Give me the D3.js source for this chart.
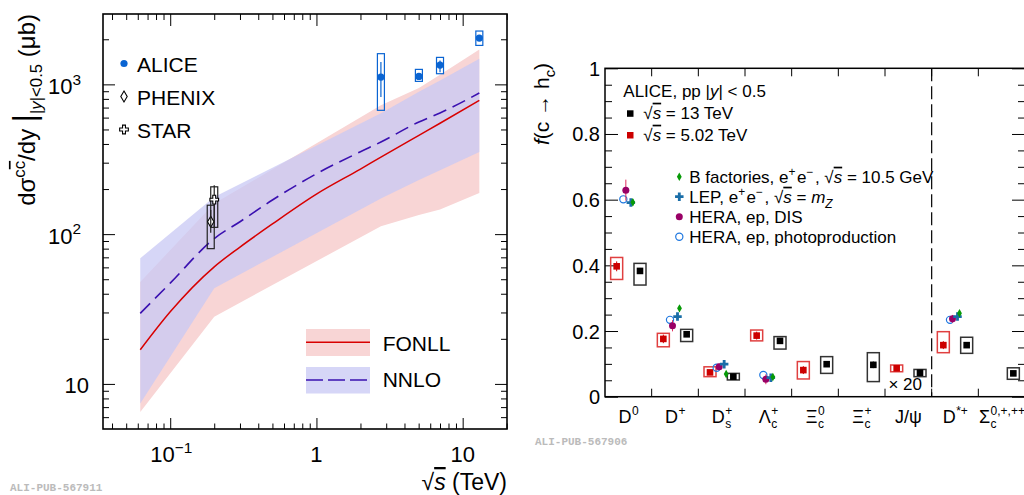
<!DOCTYPE html>
<html>
<head>
<meta charset="utf-8">
<script src="https://cdn.jsdelivr.net/npm/d3@7"></script>
<style>
  body { margin: 0; background: #fff; }
  svg { font-family: "Liberation Sans", Arial, sans-serif; }
</style>
</head>
<body>
<div id="chart"></div>
<script>
// ---- left panel: charm production cross section vs sqrt(s) ----
var modelE = [0.0624, 0.1, 0.2, 0.3, 0.5, 1, 2, 2.76, 5.02, 7, 13];
var fonllCentral = [16.9, 30.3, 60.5, 82, 117, 185, 272, 327, 457, 550, 782];
var nnloCentral = [29.6, 47.1, 93.5, 121, 169, 253, 355, 412, 561, 644, 875];

var bandE = [0.0624, 0.2, 2.76, 5.02, 7, 13];
var fonllLow = [6.5, 28.1, 113, 134, 146, 188];
var fonllHigh = [48, 160, 724, 946, 1158, 1711];
var nnloLow = [7.4, 43.5, 173, 230, 267, 354];
var nnloHigh = [69, 177, 641, 891, 1063, 1483];

var aliceE = [2.76, 5.02, 7, 13];
var aliceVal = [1119, 1130, 1345, 2036];
var aliceStatLo = [822, 1085, 1207, 1950];
var aliceStatHi = [1408, 1180, 1445, 2120];
var aliceSysLo = [671, 1047, 1178, 1820];
var aliceSysHi = [1603, 1259, 1514, 2270];

var phenixE = [0.2], phenixVal = [121], phenixStatLo = [102], phenixStatHi = [145], phenixSysLo = [80], phenixSysHi = [156];
var starE = [0.2], starVal = [170], starStatLo = [110], starStatHi = [212], starSysLo = [111], starSysHi = [207];

var xTickVals = [0.1, 1, 10], xTickBase = ["10", "1", "10"], xTickSup = ["\u22121", "", ""];
var yTickVals = [10, 100, 1000], yTickBase = ["10", "10", "10"], yTickSup = ["", "2", "3"];

// ---- right panel: fragmentation fractions ----
var cats = ["D0", "D+", "Ds+", "Lc+", "Xic0", "Xic+", "Jpsi", "D*+", "Sc"];
var catBase = ["D", "D", "D", "\u039B", "\u039E", "\u039E", "J/\u03C8", "D", "\u03A3"];
var catSup = ["0", "+", "+", "+", "0", "+", "", "*+", "0,+,++"];
var catSub = ["", "", "s", "c", "c", "c", "", "", "c"];

var a502 = [0.397, 0.176, 0.074, 0.186, 0.081, null, 0.0865, 0.157, null];
var a502SysLo = [0.357, 0.152, 0.061, 0.170, 0.054, null, 0.076, 0.134, null];
var a502SysHi = [0.424, 0.193, 0.091, 0.203, 0.107, null, 0.0965, 0.198, null];
var a502Stat = [0.015, 0.013, 0.006, 0.012, 0.012, null, 0.003, 0.012, null];
var a13 = [0.383, 0.190, 0.061, 0.170, 0.099, 0.097, 0.073, 0.157, 0.071];
var a13SysLo = [0.340, 0.168, 0.051, 0.145, 0.071, 0.046, 0.061, 0.132, 0.053];
var a13SysHi = [0.406, 0.205, 0.071, 0.183, 0.122, 0.134, 0.083, 0.181, 0.088];
var a13Stat = [0.009, 0.008, 0.003, 0.006, 0.008, 0.010, 0.002, 0.006, 0.005];

var otherCats = ["D0", "D+", "Ds+", "Lc+", "D*+"];
var bFactVal = [0.592, 0.269, 0.069, 0.060, 0.254];
var bFactErr = [0.010, 0.010, 0.006, 0.005, 0.008];
var lepVal = [0.591, 0.244, 0.099, 0.058, 0.244];
var heraDisVal = [0.629, 0.216, 0.091, 0.053, 0.237];
var heraDisErr = [0.032, 0.017, 0.010, 0.015, 0.012];
var heraPhVal = [0.601, 0.234, 0.088, 0.066, 0.234];

var yRTicks = [0, 0.2, 0.4, 0.6, 0.8, 1];
var yRLabels = ["0", "0.2", "0.4", "0.6", "0.8", "1"];

var svg = d3.select("#chart").append("svg").attr("width", 1024).attr("height", 495);

// helper: text with sup/sub segments
function rich(sel, segs, fs) {
  var shift = 0;
  segs.forEach(function (s) {
    var target = s.sup ? -0.42 * fs : s.sub ? 0.3 * fs : 0;
    var ts = sel.append("tspan").text(s.t).attr("dy", target - shift);
    shift = target;
    if (s.sup || s.sub) ts.attr("font-size", 0.7 * fs);
    if (s.size) ts.attr("font-size", s.size * fs);
    if (s.it) ts.attr("font-style", "italic");
    if (s.bar) ts.style("text-decoration", "overline");
    if (s.dx) ts.attr("dx", s.dx);
  });
  return sel;
}

// ================= LEFT =================
var xL = d3.scaleLog().domain([0.0347, 20.1]).range([103, 507]);
var yL = d3.scaleLog().domain([5, 2950]).range([429, 14]);
var left = svg.append("g");

var pinkFill = "#f8d5d5", blueFill = "#c8c8f4";

function band(lo, hi) {
  return bandE.map(function (e, i) { return { e: e, lo: lo[i], hi: hi[i] }; });
}
var area = d3.area()
  .x(function (d) { return xL(d.e); })
  .y0(function (d) { return yL(d.lo); })
  .y1(function (d) { return yL(d.hi); });

left.append("path").datum(band(fonllLow, fonllHigh)).attr("d", area).attr("fill", pinkFill);
left.append("path").datum(band(nnloLow, nnloHigh)).attr("d", area)
  .attr("fill", blueFill).attr("fill-opacity", 0.75);

var line = d3.line()
  .x(function (d) { return xL(d[0]); })
  .y(function (d) { return yL(d[1]); })
  .curve(d3.curveMonotoneX);

left.append("path").datum(d3.zip(modelE, fonllCentral)).attr("d", line)
  .attr("fill", "none").attr("stroke", "#d80000").attr("stroke-width", 1.5);
left.append("path").datum(d3.zip(modelE, nnloCentral)).attr("d", line)
  .attr("fill", "none").attr("stroke", "#3a10b0").attr("stroke-width", 1.6)
  .attr("stroke-dasharray", "14,7");

// data points with sys boxes
function drawSet(E, val, sLo, sHi, stLo, stHi, color, nudge, marker) {
  var g = left.append("g");
  E.forEach(function (e, i) {
    var cx = xL(e) + nudge;
    g.append("rect").attr("x", cx - 3.5).attr("width", 7)
      .attr("y", yL(sHi[i])).attr("height", yL(sLo[i]) - yL(sHi[i]))
      .attr("fill", "none").attr("stroke", color).attr("stroke-width", 1.2);
    g.append("line").attr("x1", cx).attr("x2", cx)
      .attr("y1", yL(stHi[i])).attr("y2", yL(stLo[i]))
      .attr("stroke", color).attr("stroke-width", 1.2);
    marker(g, cx, yL(val[i]));
  });
}
var blue = "#0a64d2";
function mkDot(g, x, y) { g.append("circle").attr("cx", x).attr("cy", y).attr("r", 3.6).attr("fill", blue); }
function mkDiamond(g, x, y) {
  g.append("path").attr("d", "M0,-5.5L3.2,0L0,5.5L-3.2,0Z").attr("transform", "translate(" + x + "," + y + ")")
    .attr("fill", "#fff").attr("stroke", "#000").attr("stroke-width", 1.1);
}
function mkCross(g, x, y) {
  g.append("path").attr("d", d3.symbol(d3.symbolCross, 42)()).attr("transform", "translate(" + x + "," + y + ")")
    .attr("fill", "#fff").attr("stroke", "#000").attr("stroke-width", 1.1);
}
drawSet(phenixE, phenixVal, phenixSysLo, phenixSysHi, phenixStatLo, phenixStatHi, "#222", -3.5, mkDiamond);
drawSet(starE, starVal, starSysLo, starSysHi, starStatLo, starStatHi, "#222", 0, mkCross);
drawSet(aliceE, aliceVal, aliceSysLo, aliceSysHi, aliceStatLo, aliceStatHi, blue, 0, mkDot);

// axes (inward ticks)
function minors(lo, hi) {
  var t = [];
  for (var p = -2; p <= 4; p++) for (var m = 2; m <= 9; m++) {
    var v = m * Math.pow(10, p);
    if (v > lo && v < hi) t.push(v);
  }
  return t;
}
function noDomain(g) { g.select(".domain").remove(); g.selectAll("text").remove(); }
var xMin = minors(0.0347, 20.1), yMin = minors(5, 2950);
left.append("g").attr("transform", "translate(0,429)").call(d3.axisBottom(xL).tickValues(xTickVals).tickSize(-11)).call(noDomain);
left.append("g").attr("transform", "translate(0,429)").call(d3.axisBottom(xL).tickValues(xMin).tickSize(-5.5)).call(noDomain);
left.append("g").attr("transform", "translate(0,14)").call(d3.axisTop(xL).tickValues(xTickVals).tickSize(-12)).call(noDomain);
left.append("g").attr("transform", "translate(0,14)").call(d3.axisTop(xL).tickValues(xMin).tickSize(-6)).call(noDomain);
left.append("g").attr("transform", "translate(103,0)").call(d3.axisLeft(yL).tickValues(yTickVals).tickSize(-12)).call(noDomain);
left.append("g").attr("transform", "translate(103,0)").call(d3.axisLeft(yL).tickValues(yMin).tickSize(-6)).call(noDomain);
left.append("g").attr("transform", "translate(507,0)").call(d3.axisRight(yL).tickValues(yTickVals).tickSize(-12)).call(noDomain);
left.append("g").attr("transform", "translate(507,0)").call(d3.axisRight(yL).tickValues(yMin).tickSize(-6)).call(noDomain);
left.selectAll(".tick line").attr("stroke-width", 1);

left.append("rect").attr("x", 103).attr("y", 14).attr("width", 404).attr("height", 415)
  .attr("fill", "none").attr("stroke", "#000").attr("stroke-width", 1.6);

// tick labels
xTickVals.forEach(function (v, i) {
  var segs = [{ t: xTickBase[i] }];
  if (xTickSup[i]) segs.push({ t: xTickSup[i], sup: 1 });
  rich(left.append("text").attr("x", xL(v) + (xTickSup[i] ? 1 : 0)).attr("y", 462)
    .attr("text-anchor", "middle").attr("font-size", 22), segs, 22);
});
yTickVals.forEach(function (v, i) {
  var segs = [{ t: yTickBase[i] }];
  if (yTickSup[i]) segs.push({ t: yTickSup[i], sup: 1 });
  rich(left.append("text").attr("x", yTickSup[i] ? 81 : 89).attr("y", yL(v) + 9.5)
    .attr("text-anchor", "end").attr("font-size", 22), segs, 22);
});

// axis titles
rich(left.append("text").attr("x", 507).attr("y", 490).attr("text-anchor", "end").attr("font-size", 23),
  [{ t: "\u221A" }, { t: "s", it: 1, bar: 1 }, { t: " (TeV)" }], 23);
rich(left.append("text").attr("transform", "translate(35,14) rotate(-90)").attr("text-anchor", "end").attr("font-size", 24),
  [{ t: "d\u03C3" }, { t: "c", sup: 1 }, { t: "c", sup: 1, bar: 1 }, { t: "/dy " }, { t: "|", size: 1.3 },
   { t: "|", sub: 1 }, { t: "y", sub: 1, it: 1 }, { t: "|<0.5", sub: 1 }, { t: " (\u03BCb)" }], 24);

// legend top-left
var legL = [["ALICE", mkDot], ["PHENIX", mkDiamond], ["STAR", mkCross]];
legL.forEach(function (d, i) {
  var by = 71.5 + i * 33;
  d[1](left, 124, by - 8);
  left.append("text").attr("x", 137).attr("y", by).attr("font-size", 21).text(d[0]);
});

// legend bottom-right
left.append("rect").attr("x", 306).attr("y", 329).attr("width", 64).attr("height", 27).attr("fill", pinkFill);
left.append("line").attr("x1", 306).attr("x2", 370).attr("y1", 342.3).attr("y2", 342.3).attr("stroke", "#d80000").attr("stroke-width", 1.5);
left.append("rect").attr("x", 306).attr("y", 367).attr("width", 64).attr("height", 26.5).attr("fill", blueFill).attr("fill-opacity", 0.75);
left.append("line").attr("x1", 306).attr("x2", 370).attr("y1", 380).attr("y2", 380).attr("stroke", "#3a10b0")
  .attr("stroke-width", 1.6).attr("stroke-dasharray", "17,5");
left.append("text").attr("x", 382.7).attr("y", 350.7).attr("font-size", 21).text("FONLL");
left.append("text").attr("x", 382.7).attr("y", 387.3).attr("font-size", 21).text("NNLO");

svg.append("text").attr("x", 10).attr("y", 491).attr("font-family", "Liberation Mono, monospace")
  .attr("font-weight", "bold").attr("font-size", 11).attr("fill", "#bbb").text("ALI-PUB-567911");

// ================= RIGHT =================
var xR = d3.scaleBand().domain(cats).range([605, 1025]);
var yR = d3.scaleLinear().domain([0, 1]).range([396.7, 68.3]);
var bw = xR.bandwidth();
var right = svg.append("g");

var rMin = d3.range(1, 20).map(function (i) { return i * 0.05; }).filter(function (v, i) { return (i + 1) % 4 !== 0; });
right.append("g").attr("transform", "translate(605,0)").call(d3.axisLeft(yR).tickValues(yRTicks).tickSize(-13)).call(noDomain);
right.append("g").attr("transform", "translate(605,0)").call(d3.axisLeft(yR).tickValues(rMin).tickSize(-7)).call(noDomain);
right.append("g").attr("transform", "translate(1025,0)").call(d3.axisRight(yR).tickValues(yRTicks).tickSize(-13)).call(noDomain);
right.append("g").attr("transform", "translate(1025,0)").call(d3.axisRight(yR).tickValues(rMin).tickSize(-7)).call(noDomain);

cats.slice(1).forEach(function (c) {
  var x = xR(c);
  right.append("line").attr("x1", x).attr("x2", x).attr("y1", 396.7).attr("y2", 388.7).attr("stroke", "#000");
  right.append("line").attr("x1", x).attr("x2", x).attr("y1", 68.3).attr("y2", 76.3).attr("stroke", "#000");
});
right.append("line").attr("x1", xR("D*+")).attr("x2", xR("D*+")).attr("y1", 68.3).attr("y2", 396.7)
  .attr("stroke", "#000").attr("stroke-width", 1.2).attr("stroke-dasharray", "13,5");

right.append("rect").attr("x", 605).attr("y", 68.3).attr("width", 420).attr("height", 328.4)
  .attr("fill", "none").attr("stroke", "#000").attr("stroke-width", 1.5);

yRTicks.forEach(function (v, i) {
  right.append("text").attr("x", 600).attr("y", yR(v) + 7.5).attr("text-anchor", "end")
    .attr("font-size", 20).text(yRLabels[i]);
});

// category labels with stacked sup/sub
cats.forEach(function (c, i) {
  var g = right.append("g");
  var t = g.append("text").attr("x", 0).attr("y", 0).attr("font-size", 18).text(catBase[i]);
  var w = t.node().getComputedTextLength();
  var sw = 0;
  if (catSup[i]) {
    var s = g.append("text").attr("x", w + 0.5).attr("y", -8).attr("font-size", 12).text(catSup[i]);
    sw = Math.max(sw, s.node().getComputedTextLength());
  }
  if (catSub[i]) {
    var b = g.append("text").attr("x", w + 0.5).attr("y", 5).attr("font-size", 12).text(catSub[i]);
    sw = Math.max(sw, b.node().getComputedTextLength());
  }
  g.attr("transform", "translate(" + (xR(c) + bw / 2 - (w + sw) / 2) + ",423)");
});

// ALICE points
var red = "#cc0000", redBox = "#e04040";
function aliceSet(val, lo, hi, st, frac, color, boxColor) {
  cats.forEach(function (c, i) {
    if (val[i] == null) return;
    var cx = xR(c) + bw * frac;
    right.append("rect").attr("x", cx - 6).attr("width", 12).attr("y", yR(hi[i]))
      .attr("height", yR(lo[i]) - yR(hi[i])).attr("fill", "none").attr("stroke", boxColor).attr("stroke-width", 1.5);
    right.append("line").attr("x1", cx).attr("x2", cx).attr("y1", yR(val[i] + st[i])).attr("y2", yR(val[i] - st[i]))
      .attr("stroke", color).attr("stroke-width", 1);
    right.append("rect").attr("x", cx - 3.3).attr("y", yR(val[i]) - 3.3).attr("width", 6.6).attr("height", 6.6).attr("fill", color);
  });
}
aliceSet(a502, a502SysLo, a502SysHi, a502Stat, 0.25, red, redBox);
aliceSet(a13, a13SysLo, a13SysHi, a13Stat, 0.75, "#000", "#333");

// other experiments
var green = "#079a07", lepC = "#1a6ea8", purple = "#990066", phC = "#1f78e0";
function mkGreen(g, x, y) { g.append("path").attr("d", "M0,-4.2L2.4,0L0,4.2L-2.4,0Z").attr("transform", "translate(" + x + "," + y + ")").attr("fill", green); }
function mkLep(g, x, y) { g.append("path").attr("d", d3.symbol(d3.symbolCross, 40)()).attr("transform", "translate(" + x + "," + y + ")").attr("fill", lepC); }
function mkDis(g, x, y) { g.append("circle").attr("cx", x).attr("cy", y).attr("r", 3.5).attr("fill", purple); }
function mkPh(g, x, y) { g.append("circle").attr("cx", x).attr("cy", y).attr("r", 3.6).attr("fill", "none").attr("stroke", phC).attr("stroke-width", 1.2); }

otherCats.forEach(function (c, i) {
  var cx = xR(c) + bw / 2;
  mkPh(right, cx - 5, yR(heraPhVal[i]));
  right.append("line").attr("x1", cx - 2.5).attr("x2", cx - 2.5).attr("y1", yR(heraDisVal[i] + heraDisErr[i]))
    .attr("y2", yR(heraDisVal[i] - heraDisErr[i])).attr("stroke", "#e03060").attr("stroke-width", 1);
  mkDis(right, cx - 2.5, yR(heraDisVal[i]));
  mkLep(right, cx + 2.5, yR(lepVal[i]));
  right.append("line").attr("x1", cx + 4.5).attr("x2", cx + 4.5).attr("y1", yR(bFactVal[i] + bFactErr[i]))
    .attr("y2", yR(bFactVal[i] - bFactErr[i])).attr("stroke", green).attr("stroke-width", 1);
  mkGreen(right, cx + 4.5, yR(bFactVal[i]));
});

// legend
rich(right.append("text").attr("x", 623.3).attr("y", 96.7).attr("font-size", 17),
  [{ t: "ALICE, pp |" }, { t: "y", it: 1 }, { t: "| < 0.5" }], 17);
right.append("rect").attr("x", 627).attr("y", 110.3).attr("width", 6.5).attr("height", 6.5).attr("fill", "#000");
right.append("rect").attr("x", 627).attr("y", 132).attr("width", 6.5).attr("height", 6.5).attr("fill", red);
rich(right.append("text").attr("x", 643.3).attr("y", 118.7).attr("font-size", 17),
  [{ t: "\u221A" }, { t: "s", it: 1, bar: 1 }, { t: " = 13 TeV" }], 17);
rich(right.append("text").attr("x", 643.3).attr("y", 140.7).attr("font-size", 17),
  [{ t: "\u221A" }, { t: "s", it: 1, bar: 1 }, { t: " = 5.02 TeV" }], 17);

var legR = [
  [mkGreen, [{ t: "B factories, e" }, { t: "+", sup: 1 }, { t: "e", dx: 1.5 }, { t: "\u2212", sup: 1 }, { t: ", \u221A", dx: 1.5 }, { t: "s", it: 1, bar: 1 }, { t: " = 10.5 GeV" }]],
  [mkLep, [{ t: "LEP, e" }, { t: "+", sup: 1 }, { t: "e", dx: 1.5 }, { t: "\u2212", sup: 1 }, { t: ", \u221A", dx: 1.5 }, { t: "s", it: 1, bar: 1 }, { t: " = " }, { t: "m", it: 1 }, { t: "Z", sub: 1, it: 1 }]],
  [mkDis, [{ t: "HERA, ep, DIS" }]],
  [mkPh, [{ t: "HERA, ep, photoproduction" }]]
];
legR.forEach(function (d, i) {
  var by = 182.7 + i * 20;
  d[0](right, 679.3, by - 6);
  rich(right.append("text").attr("x", 689.3).attr("y", by).attr("font-size", 17), d[1], 17);
});

right.append("text").attr("x", 922).attr("y", 390).attr("text-anchor", "end").attr("font-size", 17).text("\u00D7 20");

// axis title
rich(right.append("text").attr("transform", "translate(549,63) rotate(-90)").attr("text-anchor", "end").attr("font-size", 21),
  [{ t: "f", it: 1 }, { t: "(c \u2192 h" }, { t: "c", sub: 1 }, { t: ")" }], 21);

svg.append("text").attr("x", 535).attr("y", 445).attr("font-family", "Liberation Mono, monospace")
  .attr("font-weight", "bold").attr("font-size", 11).attr("fill", "#bbb").text("ALI-PUB-567906");
</script>
</body>
</html>
